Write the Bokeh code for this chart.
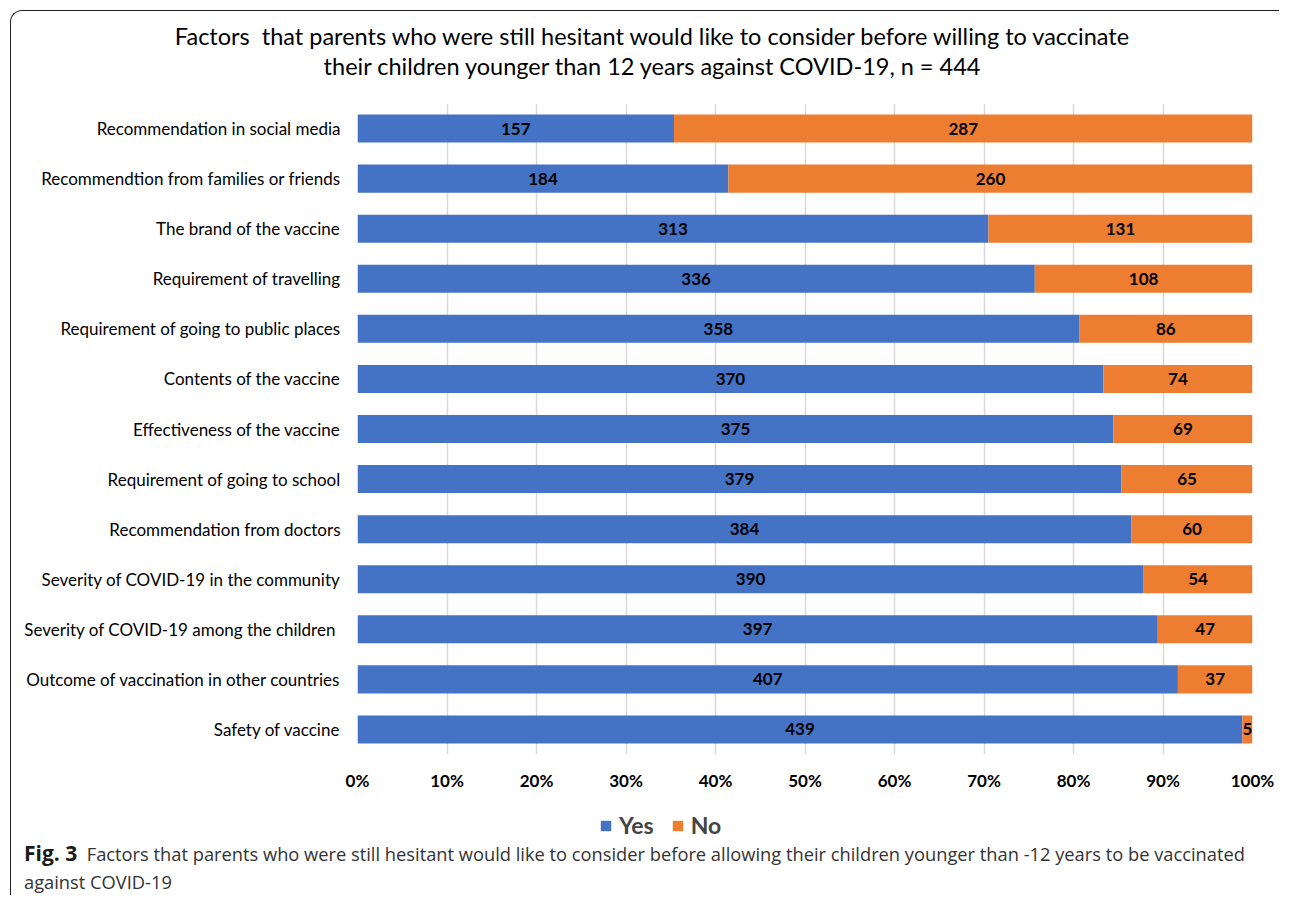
from bokeh.plotting import figure
from bokeh.layouts import column
from bokeh.models import (ColumnDataSource, FactorRange, Range1d, NumeralTickFormatter,
                          FixedTicker, Legend, LegendItem, Div)
from bokeh.embed import file_html
from bokeh.resources import INLINE
from bokeh.core.properties import value

categories = [
    "Recommendation in social media",
    "Recommendtion from families or friends",
    "The brand of the vaccine",
    "Requirement of travelling",
    "Requirement of going to public places",
    "Contents of the vaccine",
    "Effectiveness of the vaccine",
    "Requirement of going to school",
    "Recommendation from doctors",
    "Severity of COVID-19 in the community",
    "Severity of COVID-19 among the children ",
    "Outcome of vaccination in other countries",
    "Safety of vaccine",
]
yes_counts = [157, 184, 313, 336, 358, 370, 375, 379, 384, 390, 397, 407, 439]
no_counts = [287, 260, 131, 108, 86, 74, 69, 65, 60, 54, 47, 37, 5]
n_total = 444
x_ticks = [0, 0.1, 0.2, 0.3, 0.4, 0.5, 0.6, 0.7, 0.8, 0.9, 1.0]

title_lines = [
    "Factors  that parents who were still hesitant would like to consider before willing to vaccinate",
    "their children younger than 12 years against COVID-19, n = 444",
]
caption_bold = "Fig. 3"
caption_line1 = ("Factors that parents who were still hesitant would like to consider before allowing "
                 "their children younger than -12 years to be vaccinated")
caption_line2 = "against COVID-19"

BLUE = "#4472C4"
ORANGE = "#ED7D31"
CHART_FONT = "Lato"
CAPTION_FONT = "Open Sans"

OX, OY = 12, 12                       # page offset of the content
W = 1268
FL, FT, FR, FB = 358, 104, 1253, 755  # frame edges in page pixels
TOP_PAD = 10                          # figure border above the frame
P_BOTTOM = 795                        # page y where the main figure ends
LEG_BOTTOM = 840                      # page y where the legend strip ends

yes_pct = [y / n_total for y in yes_counts]
no_pct = [n / n_total for n in no_counts]
src = ColumnDataSource(dict(
    cat=categories,
    yes=yes_pct,
    no=no_pct,
    yes_mid=[y / 2 for y in yes_pct],
    no_mid=[y + n / 2 for y, n in zip(yes_pct, no_pct)],
    yes_txt=[str(v) for v in yes_counts],
    no_txt=[str(v) for v in no_counts],
))

# ---------------- title ----------------
title_div = Div(
    text=(f'<div style="width:{W}px;box-sizing:border-box;padding-top:10px;padding-left:14px;'
          'text-align:center;white-space:pre;line-height:30px">'
          + "<br>".join(title_lines) + "</div>"),
    width=W, height=FT - OY - TOP_PAD, margin=0,
    styles={"font-family": CHART_FONT, "font-size": "23.5px", "color": "black"},
)

# ---------------- main chart ----------------
fig_top = FT - TOP_PAD
p = figure(width=W, height=P_BOTTOM - fig_top, output_backend="svg", toolbar_location=None,
           y_range=FactorRange(factors=list(reversed(categories))),
           x_range=Range1d(0, 1),
           min_border_left=FL - OX, min_border_right=OX + W - FR, min_border_top=TOP_PAD,
           min_border_bottom=P_BOTTOM - FB)
p.outline_line_color = None
p.background_fill_color = "white"
p.border_fill_color = "white"

rs = p.hbar_stack(["yes", "no"], y="cat", height=0.56, color=[BLUE, ORANGE], source=src,
                  line_color=None)

for xcol, tcol in (("yes_mid", "yes_txt"), ("no_mid", "no_txt")):
    p.text(x=xcol, y="cat", text=tcol, source=src, text_align="center",
           text_baseline="middle", text_font=value(CHART_FONT), text_font_style="bold",
           text_font_size="17px", text_color="black")

p.ygrid.grid_line_color = None
p.xgrid.grid_line_color = "#d9d9d9"
p.xgrid.grid_line_width = 1.5
p.xaxis.ticker = FixedTicker(ticks=x_ticks)
p.xaxis.formatter = NumeralTickFormatter(format="0%")
for ax in (p.xaxis[0], p.yaxis[0]):
    ax.axis_line_color = None
    ax.major_tick_line_color = None
    ax.minor_tick_line_color = None
    ax.major_tick_out = 0
    ax.major_tick_in = 0
    ax.major_label_text_font = CHART_FONT
    ax.major_label_text_color = "black"
p.xaxis.major_label_text_font_style = "bold"
p.xaxis.major_label_text_font_size = "17px"
p.xaxis.major_label_standoff = 15
p.yaxis.major_label_text_font_size = "17px"
p.yaxis.major_label_standoff = 17

# ---------------- legend strip (frame aligned with the chart's frame) ----------------
pl = figure(width=W, height=LEG_BOTTOM - P_BOTTOM, output_backend="svg", toolbar_location=None,
            x_range=Range1d(0, 1), y_range=p.y_range, x_axis_type=None, y_axis_type=None,
            min_border=0)
pl.outline_line_color = None
pl.grid.visible = False
leg_rs = pl.hbar_stack(["yes", "no"], y="cat", height=0.56, color=[BLUE, ORANGE], source=src,
                       line_color=None, visible=False)
legend = Legend(items=[LegendItem(label="Yes", renderers=[leg_rs[0]]),
                       LegendItem(label="No", renderers=[leg_rs[1]])],
                orientation="horizontal", location=(600 - FL, 0),
                background_fill_alpha=0, border_line_alpha=0, margin=0, padding=0,
                label_text_font=CHART_FONT, label_text_font_style="bold",
                label_text_font_size="23px", glyph_width=13, glyph_height=13,
                spacing=17, label_standoff=7)
pl.add_layout(legend, "center")

# ---------------- caption ----------------
caption = Div(
    text=(f'<div style="padding-left:13px;white-space:nowrap;line-height:28px">'
          f'<b style="font-size:21px;color:#1a1a1a">{caption_bold}</b>'
          f'&nbsp;&nbsp;{caption_line1}<br>{caption_line2}</div>'),
    width=W, height=56, margin=0,
    styles={"font-family": CAPTION_FONT, "font-size": "18.3px", "color": "#333333"},
)

layout = column(title_div, p, pl, caption, spacing=0,
                styles={"border-top": "1.5px solid #222", "border-left": "1.5px solid #222",
                        "border-top-left-radius": "12px", "margin-left": "10px",
                        "margin-top": "10px"})

open("out.html", "w").write(file_html(layout, INLINE))
